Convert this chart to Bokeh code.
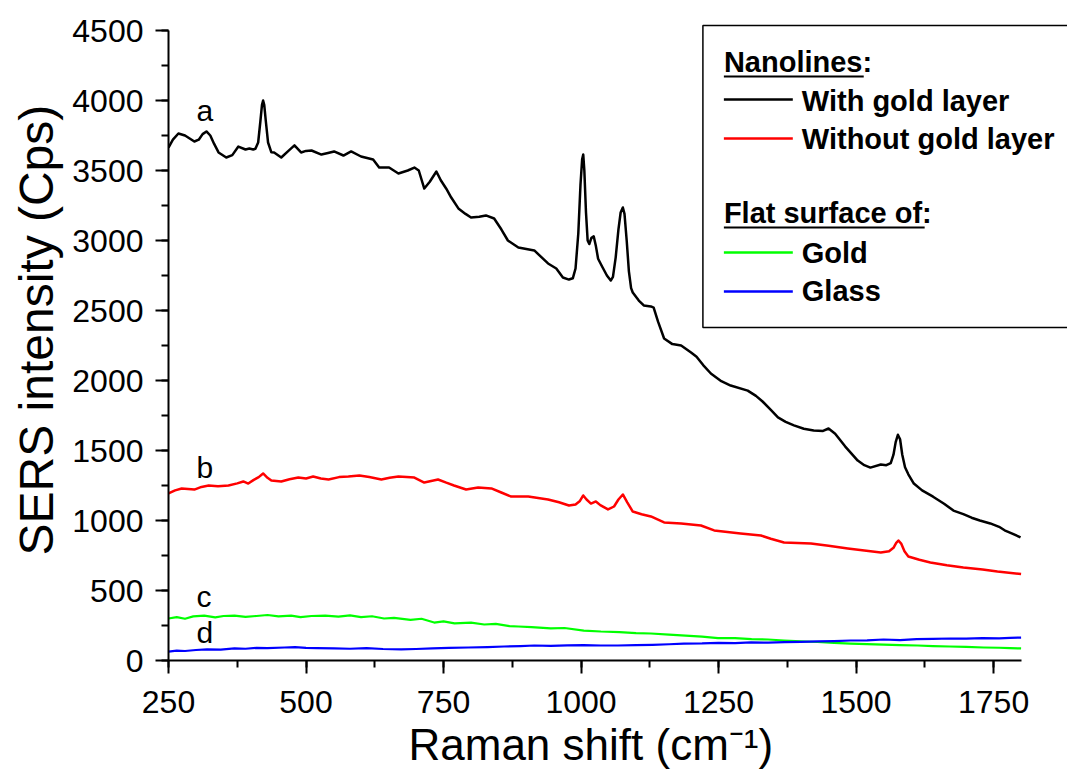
from bokeh.plotting import figure
from bokeh.models import Range1d, SingleIntervalTicker, Label, Title
from bokeh.embed import file_html
from bokeh.resources import INLINE

# ---------------- data ----------------
x_a = [250, 258, 268, 280, 297, 305, 312, 319, 326, 333, 341, 355, 366, 377, 390, 397, 404, 408, 413, 417, 420, 422,
       424, 427, 431, 437, 442, 455, 468, 479, 491, 500, 510, 528, 540, 551, 568, 582, 600, 622, 633, 651, 668,
       685, 697, 705, 715, 725, 737, 745, 755, 764, 777, 790, 800, 815, 827, 842, 855, 867, 886, 915, 940, 955,
       967, 978, 985, 990, 995, 999, 1002, 1004, 1006, 1009, 1012, 1015, 1019, 1023, 1027, 1031, 1039, 1047,
       1054, 1058, 1063, 1068, 1072, 1076, 1079, 1083, 1087, 1091, 1094, 1105, 1114, 1127, 1132, 1140, 1151,
       1166, 1182, 1200, 1210, 1222, 1236, 1255, 1272, 1303, 1318, 1330, 1345, 1358, 1372, 1387, 1405, 1423,
       1440, 1450, 1462, 1480, 1503, 1515, 1526, 1545, 1555, 1563, 1568, 1572, 1576, 1580, 1584, 1589, 1595,
       1605, 1620, 1640, 1660, 1677, 1695, 1710, 1725, 1744, 1760, 1770, 1785, 1799]
y_a = [3664, 3720, 3764, 3750, 3707, 3720, 3760, 3779, 3750, 3690, 3629, 3593, 3610, 3671, 3650, 3657, 3650, 3655, 3700, 3850, 3970, 4000,
       3970, 3850, 3700, 3630, 3629, 3593, 3640, 3679, 3629, 3640, 3643, 3614, 3625, 3636, 3607, 3636, 3600, 3579, 3521, 3521, 3479,
       3500, 3521, 3500, 3371, 3420, 3493, 3430, 3370, 3307, 3229, 3190, 3164, 3170, 3179, 3157, 3080, 3000, 2950, 2929, 2836, 2800,
       2736, 2721, 2730, 2800, 3050, 3400, 3580, 3614, 3500, 3200, 3000, 2975, 3020, 3030, 2960, 2870, 2809, 2750,
       2714, 2740, 2880, 3080, 3200, 3236, 3190, 3000, 2780, 2660, 2629, 2571, 2536, 2529, 2521, 2420, 2300,
       2260, 2250, 2200, 2170, 2110, 2050, 1995, 1964, 1928, 1890, 1850, 1790, 1736, 1705, 1679, 1655, 1643,
       1640, 1657, 1620, 1530, 1428, 1395, 1378, 1400, 1395, 1410, 1470, 1560, 1612, 1580, 1470, 1380, 1330,
       1264, 1215, 1170, 1120, 1071, 1045, 1020, 1000, 979, 955, 930, 905, 879]

x_b = [250, 262, 274, 297, 310, 323, 340, 359, 375, 386, 395, 405, 414, 422, 430, 437, 455, 470, 486, 500, 513, 527,
       541, 560, 577, 597, 615, 637, 652, 668, 683, 697, 715, 740, 755, 769, 791, 813, 837, 855, 873, 904,
       940, 960, 978, 990, 998, 1004, 1010, 1018, 1027, 1035, 1049, 1060, 1068, 1076, 1084, 1094, 1110, 1127,
       1151, 1182, 1218, 1242, 1290, 1327, 1345, 1369, 1418, 1450, 1485, 1515, 1545, 1560, 1568, 1573, 1577,
       1582, 1588, 1595, 1615, 1635, 1665, 1695, 1730, 1757, 1800]
y_b = [1193, 1215, 1229, 1221, 1240, 1250, 1245, 1250, 1265, 1279, 1264, 1290, 1310, 1336, 1305, 1286, 1279, 1295, 1307, 1300, 1314, 1300,
       1293, 1310, 1314, 1321, 1310, 1293, 1305, 1314, 1310, 1307, 1271, 1293, 1270, 1250, 1221, 1236, 1229, 1200, 1171, 1171,
       1150, 1130, 1107, 1115, 1140, 1179, 1150, 1121, 1136, 1110, 1079, 1100, 1150, 1186, 1130, 1064, 1045, 1029,
       986, 979, 964, 929, 907, 893, 870, 843, 836, 820, 800, 785, 771, 780, 805, 840, 857,
       835, 780, 743, 720, 700, 680, 664, 650, 636, 618]

x_c = [250, 265, 280, 295, 315, 335, 350, 370, 390, 410, 430, 450, 473, 490, 510, 535, 559, 580, 600, 620,
       642, 660, 690, 710, 733, 750, 770, 800, 824, 845, 870, 886, 910, 945, 970, 1005, 1036, 1070, 1100,
       1127, 1160, 1190, 1220, 1249, 1280, 1310, 1340, 1369, 1400, 1430, 1460, 1490, 1520, 1550, 1580,
       1612, 1640, 1670, 1700, 1732, 1760, 1780, 1800]
y_c = [300, 310, 298, 315, 321, 308, 318, 321, 312, 318, 325, 315, 321, 310, 318, 320, 314, 322, 310, 316,
       300, 305, 290, 298, 271, 280, 265, 270, 257, 262, 245, 243, 238, 229, 232, 214, 207, 203, 196,
       193, 185, 178, 170, 160, 160, 152, 150, 143, 137, 132, 126, 121, 117, 113, 110,
       107, 103, 100, 97, 93, 91, 88, 86]

x_d = [250, 265, 280, 300, 320, 345, 370, 390, 410, 430, 461, 480, 500, 520, 551, 580, 610, 640, 673, 700,
       730, 760, 795, 830, 860, 890, 915, 945, 975, 1005, 1036, 1067, 1100, 1130, 1160, 1187, 1220, 1250,
       1280, 1309, 1340, 1370, 1400, 1430, 1460, 1490, 1520, 1550, 1580, 1610, 1640, 1672, 1700, 1730,
       1760, 1780, 1800]
y_d = [64, 70, 68, 75, 80, 78, 86, 84, 90, 88, 93, 96, 90, 88, 86, 84, 88, 82, 79, 82,
       86, 90, 93, 96, 100, 103, 107, 105, 108, 110, 107, 107, 110, 112, 116, 121, 122, 126,
       124, 129, 127, 131, 133, 136, 139, 143, 144, 150, 146, 152, 155, 157, 156, 160,
       158, 162, 164]

series_names = ["With gold layer", "Without gold layer", "Gold", "Glass"]
series_colors = ["#000000", "#ff0000", "#00ff00", "#0000ff"]
curve_letters = ["a", "b", "c", "d"]
letter_x = [301, 301, 301, 301]
letter_y = [3857, 1307, 379, 125]
group_titles = ["Nanolines", "Flat surface of"]
x_title = "Raman shift (cm\u207b\u00b9)"
y_title = "SERS intensity (Cps)"

x_ticks_interval = 250
y_ticks_interval = 500

# ---------------- layout ----------------
W, H = 1067, 778
FL, FT = 167, 20          # frame left / top (px)
FB = 660                  # frame bottom (y = 0)
SX = 0.55067              # px per cm-1
SY = 0.14                 # px per Cps
X0, Y0 = 250, 0
x_end = X0 + (W - FL) / SX
y_end = Y0 + (FB - FT) / SY

FONT = "Liberation Sans"

p = figure(width=W, height=H, output_backend="svg", toolbar_location=None,
           x_range=Range1d(X0, x_end), y_range=Range1d(Y0, y_end),
           min_border_left=FL, min_border_right=0, min_border_top=FT,
           min_border_bottom=H - FB)
p.outline_line_color = None
p.xgrid.visible = False
p.ygrid.visible = False
p.background_fill_color = "white"
p.border_fill_color = "white"

# picture px -> data helpers for hand-placed annotations
def DX(px):
    return X0 + (px - FL) / SX

def DY(py):
    return Y0 + (FB - py) / SY

def mid(baseline_px, fs):
    # anchor (text_baseline="middle") for a wanted alphabetic baseline
    return DY(baseline_px - 0.35 * fs)

# legend box (glyph, so the part past the frame edge is clipped like the reference)
p.quad(left=[DX(702)], right=[DX(1100)], top=[DY(25)], bottom=[DY(327)],
       fill_color="white", line_color="black", line_width=1.5, level="underlay")

widths = [2.5, 2.5, 2.2, 2.2]
for xs, ys, c, w in zip([x_a, x_b, x_c, x_d], [y_a, y_b, y_c, y_d], series_colors, widths):
    p.line(xs, ys, line_color=c, line_width=w, line_join="round")

for t, lx, ly in zip(curve_letters, letter_x, letter_y):
    p.add_layout(Label(x=lx, y=ly + 10.5 / SY, text=t, text_font=FONT, text_font_size="30px",
                       text_color="black", text_align="left", text_baseline="middle"))

# axes
for ax in [p.xaxis[0], p.yaxis[0]]:
    ax.axis_line_width = 2
    ax.major_tick_line_width = 2
    ax.minor_tick_line_width = 2
    ax.major_tick_out = 13
    ax.major_tick_in = 0
    ax.minor_tick_out = 7
    ax.minor_tick_in = 0
    ax.major_label_text_font = FONT
    ax.major_label_text_font_size = "32px"
    ax.major_label_text_color = "black"

p.xaxis[0].ticker = SingleIntervalTicker(interval=x_ticks_interval, num_minor_ticks=2)
p.yaxis[0].ticker = SingleIntervalTicker(interval=y_ticks_interval, num_minor_ticks=2)
p.xaxis[0].bounds = (250, 1800)
p.yaxis[0].bounds = (0, 4500)
p.xaxis[0].major_label_standoff = 17
p.yaxis[0].major_label_standoff = 12

# axis titles as side-panel titles, so they can be placed along the axis
p.add_layout(Title(text=x_title, align="left", offset=407 - FL, text_font=FONT,
                   text_font_size="44px", text_font_style="normal", text_color="black",
                   standoff=4), "below")
p.add_layout(Title(text=y_title, align="left", offset=FB - 555, text_font=FONT,
                   text_font_size="48px", text_font_style="normal", text_color="black",
                   standoff=14), "left")

LEG_FONT = 29
head_base = [72, 223]
for title, by, ul_end in zip(group_titles, head_base, [863, 924]):
    p.add_layout(Label(x=DX(723), y=mid(by, LEG_FONT), text=title + ":", text_font=FONT,
                       text_font_size=f"{LEG_FONT}px", text_font_style="bold", text_color="black",
                       text_align="left", text_baseline="middle"))
    p.segment(x0=[DX(723)], y0=[DY(by + 4)], x1=[DX(ul_end)], y1=[DY(by + 4)],
              line_color="black", line_width=2.2)
row_line_y = [99, 138, 252, 291]
row_base_y = [111, 149, 263, 301]
for name, c, ly, byy in zip(series_names, series_colors, row_line_y, row_base_y):
    p.segment(x0=[DX(723)], y0=[DY(ly)], x1=[DX(792)], y1=[DY(ly)],
              line_color=c, line_width=2.5)
    p.add_layout(Label(x=DX(801), y=mid(byy, LEG_FONT), text=name, text_font=FONT,
                       text_font_size=f"{LEG_FONT}px", text_font_style="bold", text_color="black",
                       text_align="left", text_baseline="middle"))

open("out.html", "w").write(file_html(p, INLINE))
